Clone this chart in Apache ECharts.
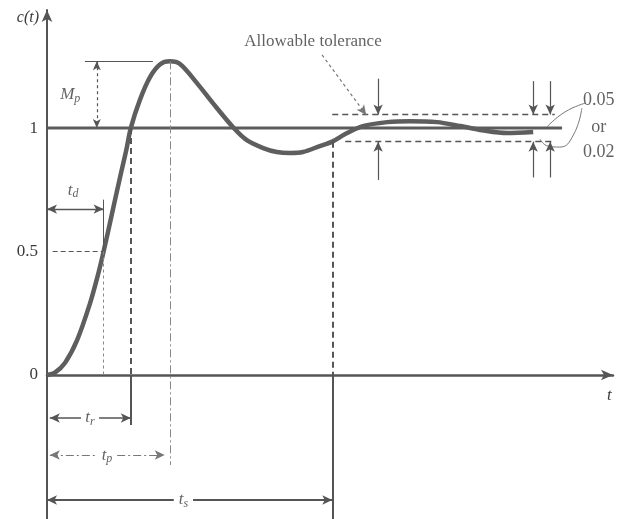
<!DOCTYPE html>
<html>
<head>
<meta charset="utf-8">
<script src="https://cdn.jsdelivr.net/npm/echarts@6/dist/echarts.min.js"></script>
<style>
  html, body { margin: 0; padding: 0; background: #fff; }
  #chart { width: 621px; height: 519px; }
</style>
</head>
<body>
<div id="chart"></div>
<script>
// Unit-step response c(t) of an underdamped second-order system
const tCurve = [0, 0.14, 0.32, 0.53, 0.76, 0.90, 1.00, 1.15, 1.29, 1.40, 1.48, 1.64, 1.82, 2.00, 2.17, 2.35, 2.65, 2.93, 3.30, 3.53, 3.82, 4.06, 4.29, 4.52, 4.82, 5.04, 5.27, 5.58, 6.01, 6.41, 6.89, 7.30, 7.77, 8.13, 8.59];
const cCurve = [0, 0.01, 0.05, 0.14, 0.29, 0.405, 0.50, 0.655, 0.80, 0.91, 1.00, 1.113, 1.206, 1.258, 1.27, 1.259, 1.182, 1.101, 1.00, 0.951, 0.919, 0.903, 0.899, 0.903, 0.927, 0.945, 0.976, 1.008, 1.024, 1.028, 1.024, 1.008, 0.988, 0.98, 0.984];

// Characteristic times and levels
const delayTime = 1.00;    // t_d
const riseTime = 1.48;     // t_r
const peakTime = 2.17;     // t_p
const settleTime = 5.04;   // t_s
const peakValue = 1.27;
const finalValue = 1;
const halfValue = 0.5;
const band = [0.945, 1.055];
const yTicks = [0, 0.5, 1];

const INK = '#555';
const TEXT = '#3a3a3a';
const FONT = '"Liberation Serif", "DejaVu Serif", serif';

function seg(a, b, opts) {
  opts = opts || {};
  const s0 = opts.start || 'none', s1 = opts.end || 'none';
  const size = opts.size || [7, 10];
  return [
    { coord: a, symbol: s0, symbolSize: size,
      lineStyle: { color: opts.color || INK, width: opts.width || 1.2, type: opts.type || 'solid' } },
    { coord: b, symbol: s1, symbolSize: size }
  ];
}

// a dimension arrow that leaves a gap for its label
function dimension(y, x0, x1, gap, opts) {
  return [
    seg([x0, y], [gap[0], y], Object.assign({}, opts, { start: 'arrow', end: 'none' })),
    seg([gap[1], y], [x1, y], Object.assign({}, opts, { start: 'none', end: 'arrow' }))
  ];
}

const dash = [6, 4];
const fineDash = [3, 3];
const dashDot = [8, 3, 2, 3];

const marks = [
  // overshoot M_p
  seg([0.67, peakValue], [1.87, peakValue]),
  seg([0.88, peakValue], [0.88, finalValue], { start: 'arrow', end: 'arrow', type: fineDash, size: [6, 9] }),
  // delay time t_d
  seg([0, 0.672], [delayTime, 0.672], { start: 'arrow', end: 'arrow', width: 1.4 }),
  seg([delayTime, 0.71], [delayTime, halfValue], { width: 1 }),
  seg([0.1, halfValue], [delayTime, halfValue], { type: [5, 3], width: 1 }),
  seg([delayTime, halfValue], [delayTime, 0], { type: fineDash, width: 1, color: '#888' }),
  // rise time t_r
  seg([riseTime, finalValue], [riseTime, 0], { type: dash, width: 2 }),
  seg([riseTime, 0], [riseTime, -0.202], { width: 2 }),
  ...dimension(-0.174, 0.05, riseTime, [0.6, 0.92], { width: 1.5 }),
  // peak time t_p
  seg([peakTime, peakValue], [peakTime, -0.364], { type: dashDot, width: 1, color: '#888' }),
  ...dimension(-0.324, 0.05, 2.08, [0.88, 1.24], { type: dashDot, width: 1, color: '#777' }),
  // settling time t_s
  seg([settleTime, band[0]], [settleTime, 0], { type: dash, width: 2 }),
  seg([settleTime, 0], [settleTime, -0.583], { width: 2 }),
  ...dimension(-0.506, 0, settleTime, [2.24, 2.58], { width: 2 }),
  // tolerance band
  seg([settleTime, band[1]], [8.97, band[1]], { type: dash, width: 1.4 }),
  seg([5.27, band[0]], [8.97, band[0]], { type: dash, width: 1.4 }),
  seg([5.85, 1.2], [5.85, band[1]], { end: 'arrow', width: 1.2 }),
  seg([5.85, 0.79], [5.85, band[0]], { end: 'arrow', width: 1.2 }),
  seg([8.59, 1.19], [8.59, band[1]], { end: 'arrow', width: 1.2 }),
  seg([8.59, 0.80], [8.59, band[0]], { end: 'arrow', width: 1.2 }),
  seg([8.89, 1.19], [8.89, band[1]], { end: 'arrow', width: 1.2 }),
  seg([8.89, 0.80], [8.89, band[0]], { end: 'arrow', width: 1.2 }),
  // pointer from the caption
  seg([4.86, 1.296], [5.64, 1.053], { end: 'arrow', type: fineDash, width: 1.2, color: '#777' })
];

const leaderA = [[9.51, 1.101], [9.15, 1.065], [8.83, 1.004]];
const leaderB = [[9.45, 1.081], [9.30, 0.972], [9.06, 0.923], [8.85, 0.927], [8.71, 0.955]];

const rich = {
  i: { fontFamily: FONT, fontStyle: 'italic', fontSize: 17, color: TEXT },
  s: { fontFamily: FONT, fontStyle: 'italic', fontSize: 12, color: TEXT, verticalAlign: 'bottom', padding: [7, 0, 0, 0] },
  n: { fontFamily: FONT, fontSize: 18, color: TEXT },
  c: { fontFamily: FONT, fontSize: 17, color: TEXT }
};

function txt(pos, formatter) {
  return {
    value: pos,
    label: {
      show: true, position: 'inside', formatter: formatter, rich: rich,
      color: TEXT, textBorderWidth: 0
    }
  };
}

const texts = [
  txt([0.41, 1.134], '{i|M}{s|p}'),
  txt([0.46, 0.749], '{i|t}{s|d}'),
  txt([0.76, -0.174], '{i|t}{s|r}'),
  txt([1.06, -0.324], '{i|t}{s|p}'),
  txt([2.41, -0.506], '{i|t}{s|s}'),
  txt([4.7, 1.352], '{c|Allowable tolerance}'),
  txt([9.75, 1.113], '{n|0.05}'),
  txt([9.75, 1.004], '{n|or}'),
  txt([9.75, 0.903], '{n|0.02}')
];

const chart = echarts.init(document.getElementById('chart'), null, { renderer: 'canvas' });
chart.setOption({
  animation: false,
  backgroundColor: '#fff',
  grid: { left: 47, right: 8, top: 10, bottom: 0 },
  xAxis: {
    type: 'value', min: 0, max: 10,
    name: 't', nameLocation: 'end', nameGap: -6,
    nameTextStyle: { fontFamily: FONT, fontStyle: 'italic', fontSize: 17, color: TEXT, verticalAlign: 'top', padding: [12, 0, 0, 0] },
    axisLine: { onZero: true, lineStyle: { color: INK, width: 2.5 }, symbol: ['none', 'arrow'], symbolSize: [8, 12] },
    axisTick: { show: false }, axisLabel: { show: false }, splitLine: { show: false }
  },
  yAxis: {
    type: 'value', min: -0.583, max: 1.478,
    name: 'c(t)', nameLocation: 'end', nameGap: -8,
    nameTextStyle: { fontFamily: FONT, fontStyle: 'italic', fontSize: 16, color: TEXT, align: 'right', verticalAlign: 'middle', padding: [0, 8, 0, 0] },
    axisLine: { show: true, lineStyle: { color: INK, width: 2 }, symbol: ['none', 'arrow'], symbolSize: [8, 12] },
    axisTick: { show: false },
    axisLabel: { customValues: yTicks, fontFamily: FONT, fontSize: 17, color: TEXT, margin: 9 },
    splitLine: { show: false }
  },
  series: [
    {
      type: 'line', data: [[0, finalValue], [9.1, finalValue]],
      showSymbol: false, symbol: 'none', silent: true,
      lineStyle: { color: '#5c5c5c', width: 3 },
      markLine: { silent: true, animation: false, label: { show: false }, emphasis: { disabled: true }, data: marks }
    },
    {
      type: 'line', data: tCurve.map((t, i) => [t, cCurve[i]]),
      smooth: 0.3, showSymbol: false, symbol: 'none', silent: true,
      lineStyle: { color: '#5e5e5e', width: 4.5 }
    },
    {
      type: 'line', data: leaderA, smooth: 0.5, showSymbol: false, symbol: 'none', silent: true,
      lineStyle: { color: '#777', width: 1 }
    },
    {
      type: 'line', data: leaderB, smooth: 0.5, showSymbol: false, symbol: 'none', silent: true,
      lineStyle: { color: '#777', width: 1 }
    },
    {
      type: 'scatter', data: texts, symbolSize: 0, silent: true, clip: false, z: 10
    }
  ]
});
</script>
</body>
</html>
